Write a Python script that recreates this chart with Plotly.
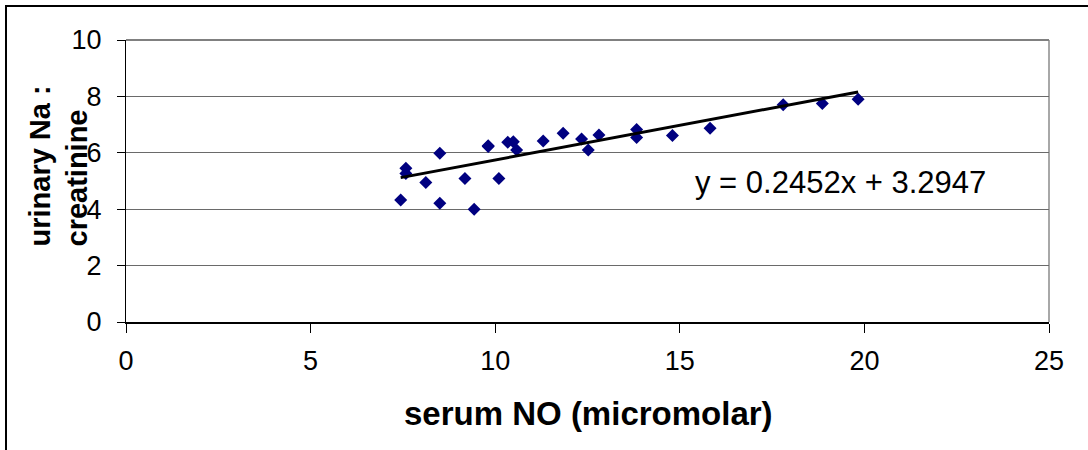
import plotly.graph_objects as go

serum_no = [7.44, 7.58, 7.58, 8.12, 8.50, 8.50, 9.18, 9.43, 9.81, 9.81, 10.10, 10.34, 10.49,
            10.58, 11.30, 11.84, 12.34, 12.52, 12.81, 13.83, 13.83, 14.80, 15.82, 17.80, 18.86, 19.83]
na_creat = [4.33, 5.45, 5.27, 4.95, 4.21, 5.98, 5.09, 4.00, 6.22, 6.25, 5.09, 6.37, 6.39,
            6.10, 6.42, 6.69, 6.49, 6.10, 6.63, 6.83, 6.54, 6.61, 6.87, 7.70, 7.75, 7.90]
slope = 0.2452
intercept = 3.2947
x_ticks = [0, 5, 10, 15, 20, 25]
y_ticks = [0, 2, 4, 6, 8, 10]

W, H = 1088, 450
L, R, T, B = 126, 39, 40, 128
pw, ph = W - L - R, H - T - B

fig = go.Figure()
fig.add_trace(go.Scatter(
    x=serum_no, y=na_creat, mode="markers",
    marker=dict(symbol="diamond", size=10, color="#000080", line=dict(width=0)),
    showlegend=False, hoverinfo="x+y"))

xmin, xmax = min(serum_no), max(serum_no)
fig.add_trace(go.Scatter(
    x=[xmin, xmax], y=[slope * xmin + intercept, slope * xmax + intercept],
    mode="lines", line=dict(color="black", width=3), showlegend=False, hoverinfo="skip"))

font = "Arial, Liberation Sans, sans-serif"
fig.update_layout(
    width=W, height=H,
    margin=dict(l=L, r=R, t=T, b=B, pad=0),
    paper_bgcolor="white", plot_bgcolor="white",
    font=dict(family=font, color="black", size=27),
    xaxis=dict(range=[0, 25], tickvals=x_ticks, ticks="outside", ticklen=9, tickcolor="black",
               tickwidth=1, showgrid=False, zeroline=False, showline=True, linecolor="black",
               linewidth=2, tickfont=dict(size=27), ticklabelstandoff=5, fixedrange=True),
    yaxis=dict(range=[0, 10], tickvals=y_ticks, ticks="outside", ticklen=8, tickcolor="black",
               tickwidth=1, showgrid=True, gridcolor="#6a6a6a", gridwidth=1, zeroline=False,
               showline=True, linecolor="black", linewidth=1, tickfont=dict(size=27),
               ticklabelstandoff=10, fixedrange=True),
    shapes=[
        dict(type="line", xref="paper", yref="paper", x0=0, x1=1, y0=1, y1=1,
             line=dict(color="#808080", width=2), layer="above"),
        dict(type="line", xref="paper", yref="paper", x0=1, x1=1, y0=0, y1=1,
             line=dict(color="#a8a8a8", width=2), layer="below"),
        dict(type="rect", xref="paper", yref="paper",
             x0=(6 - L) / pw, x1=(W + 20 - L) / pw,
             y0=-(H + 20 - (T + ph)) / ph, y1=1 + (T - 6) / ph,
             line=dict(color="black", width=2), fillcolor="rgba(0,0,0,0)"),
    ],
    annotations=[
        dict(text="y = 0.2452x + 3.2947", x=15.36, y=4.96, xref="x", yref="y",
             xanchor="left", yanchor="middle", showarrow=False,
             font=dict(size=31, family=font)),
        dict(text="<b>serum NO (micromolar)</b>", x=0.5016, y=-(413 - (T + ph)) / ph,
             xref="paper", yref="paper", xanchor="center", yanchor="middle",
             showarrow=False, font=dict(size=33, family=font)),
        dict(text="<b>urinary Na :<br>creatinine</b>", x=(58.5 - L) / pw,
             y=(T + ph - 166) / ph, xref="paper", yref="paper", xanchor="center",
             yanchor="middle", textangle=-90, showarrow=False, align="left",
             font=dict(size=29, family=font)),
    ],
)

fig.write_html("out.html", config={"displayModeBar": False},
               post_script="document.body.style.margin='0px';")
